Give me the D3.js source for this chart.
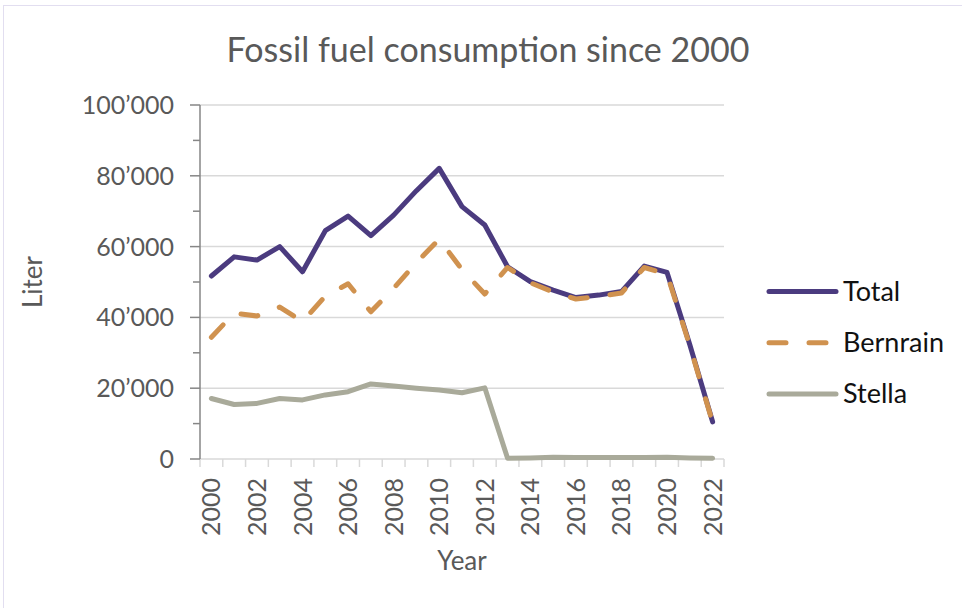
<!DOCTYPE html>
<html lang="en">
<head>
<meta charset="utf-8">
<title>Fossil fuel consumption since 2000</title>
<script src="https://cdn.jsdelivr.net/npm/d3@7"></script>
<style>
  body { margin: 0; background: #fff; }
  svg text { font-family: Lato, "Open Sans", sans-serif; fill: #595959; }
</style>
</head>
<body>
<script>
// data
var years = d3.range(2000, 2023);
var total = [51700, 57100, 56200, 60000, 52900, 64500, 68600, 63100, 68900, 75800, 82100,
             71300, 66100, 54300, 50100, 47700, 45600, 46300, 47300, 54500, 52700, 32300, 10500];
var bernrain = [34400, 41200, 40400, 42900, 38800, 46000, 49500, 41600, 48200, 55500, 62100,
                53500, 46600, 54100, 49800, 47200, 45200, 45900, 46900, 54100, 52200, 32000, 10300];
var stella = [17100, 15400, 15700, 17100, 16700, 18100, 19000, 21200, 20600, 20000, 19500,
              18700, 20100, 200, 300, 500, 400, 400, 400, 400, 500, 300, 200];
var yTicks = [0, 20000, 40000, 60000, 80000, 100000];
var xLabels = d3.range(2000, 2023, 2);

var series = [
  {name: "Total", values: total, color: "#4b3b7f", dash: null},
  {name: "Bernrain", values: bernrain, color: "#d0924f", dash: "17 23"},
  {name: "Stella", values: stella, color: "#a9aa9a", dash: null}
];

var w = 962, h = 608;
var plot = {left: 200, right: 724, top: 105, bottom: 459};

var svg = d3.select("body").append("svg")
    .attr("width", w)
    .attr("height", h);

// light frame around the chart area
svg.append("rect")
    .attr("x", 3.5).attr("y", 5.5)
    .attr("width", 1000).attr("height", 1000)
    .attr("fill", "none")
    .attr("stroke", "#e2def0");

var x = d3.scaleBand()
    .domain(years)
    .range([plot.left, plot.right]);

var y = d3.scaleLinear()
    .domain([0, 100000])
    .range([plot.bottom, plot.top]);

// gridlines
svg.append("g")
  .selectAll("line")
  .data(yTicks.slice(1))
  .enter().append("line")
    .attr("x1", plot.left).attr("x2", plot.right)
    .attr("y1", function(d) { return y(d); })
    .attr("y2", function(d) { return y(d); })
    .attr("stroke", "#d9d9d9")
    .attr("stroke-width", 1.5);

// x axis: line + tick marks between categories
var xAxis = svg.append("g");
xAxis.append("line")
    .attr("x1", plot.left).attr("x2", plot.right)
    .attr("y1", plot.bottom).attr("y2", plot.bottom)
    .attr("stroke", "#d9d9d9").attr("stroke-width", 1.5);
xAxis.selectAll("line.tick")
  .data(years.concat([2023]))
  .enter().append("line")
    .attr("class", "tick")
    .attr("x1", function(d, i) { return plot.left + i * x.step(); })
    .attr("x2", function(d, i) { return plot.left + i * x.step(); })
    .attr("y1", plot.bottom).attr("y2", plot.bottom + 8)
    .attr("stroke", "#d9d9d9").attr("stroke-width", 1.5);
xAxis.selectAll("text")
  .data(xLabels)
  .enter().append("text")
    .attr("transform", function(d) {
      return "translate(" + (x(d) + x.bandwidth() / 2 + 9) + "," + (plot.bottom + 19) + ") rotate(-90)";
    })
    .attr("text-anchor", "end")
    .style("font-size", "25px")
    .text(function(d) { return d; });

// y axis
var yAxis = svg.append("g");
yAxis.append("line")
    .attr("x1", plot.left).attr("x2", plot.left)
    .attr("y1", plot.top).attr("y2", plot.bottom)
    .attr("stroke", "#868686").attr("stroke-width", 1.5);
yAxis.selectAll("line.minor")
  .data(d3.range(10000, 100000, 20000))
  .enter().append("line")
    .attr("x1", plot.left - 7).attr("x2", plot.left)
    .attr("y1", function(d) { return y(d); })
    .attr("y2", function(d) { return y(d); })
    .attr("stroke", "#868686").attr("stroke-width", 1.5);
yAxis.selectAll("line.major")
  .data(yTicks)
  .enter().append("line")
    .attr("x1", plot.left - 10).attr("x2", plot.left)
    .attr("y1", function(d) { return y(d); })
    .attr("y2", function(d) { return y(d); })
    .attr("stroke", "#868686").attr("stroke-width", 1.5);
yAxis.selectAll("text")
  .data(yTicks)
  .enter().append("text")
    .attr("x", 174)
    .attr("y", function(d) { return y(d) + 9; })
    .attr("text-anchor", "end")
    .style("font-size", "25px")
    .text(function(d) { return d3.format(",")(d).replace(/,/g, "\u2019"); });

// lines
var line = d3.line()
    .x(function(d, i) { return x(years[i]) + x.bandwidth() / 2; })
    .y(function(d) { return y(d); });

svg.append("g")
  .selectAll("path")
  .data(series)
  .enter().append("path")
    .attr("d", function(d) { return line(d.values); })
    .attr("fill", "none")
    .attr("stroke", function(d) { return d.color; })
    .attr("stroke-width", 5)
    .attr("stroke-linejoin", "round")
    .attr("stroke-linecap", "round")
    .attr("stroke-dasharray", function(d) { return d.dash; });

// title and axis titles
svg.append("text")
    .attr("x", 488).attr("y", 62)
    .attr("text-anchor", "middle")
    .style("font-size", "34px")
    .text("Fossil fuel consumption since 2000");

svg.append("text")
    .attr("transform", "translate(42,282) rotate(-90)")
    .attr("text-anchor", "middle")
    .style("font-size", "26px")
    .text("Liter");

svg.append("text")
    .attr("x", 462).attr("y", 570)
    .attr("text-anchor", "middle")
    .style("font-size", "26px")
    .text("Year");

// legend
var legend = svg.append("g")
  .selectAll("g")
  .data(series)
  .enter().append("g")
    .attr("transform", function(d, i) { return "translate(0," + (291.5 + i * 51.2) + ")"; });
legend.append("line")
    .attr("x1", 769).attr("x2", 836)
    .attr("stroke", function(d) { return d.color; })
    .attr("stroke-width", 5)
    .attr("stroke-linecap", "round")
    .attr("stroke-dasharray", function(d) { return d.dash; });
legend.append("text")
    .attr("x", 843).attr("y", 9)
    .style("font-size", "27px")
    .style("fill", "#111")
    .text(function(d) { return d.name; });
</script>
</body>
</html>
